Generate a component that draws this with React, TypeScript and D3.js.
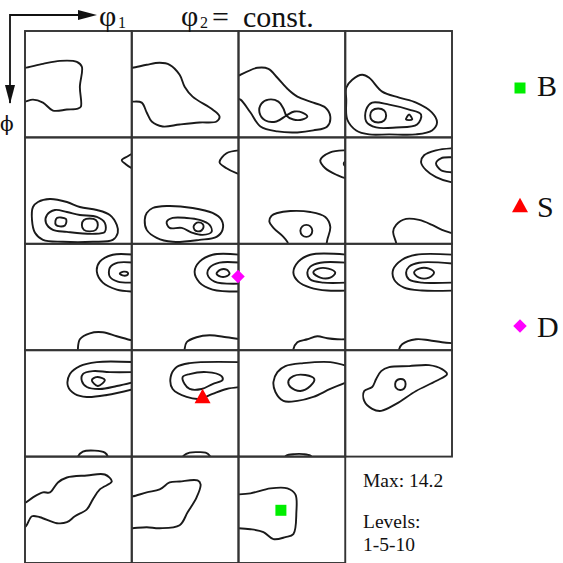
import React from 'react';
import * as d3 from 'd3';

type P = [number, number];
type Contour = { closed: boolean; pts: P[] };
type Cell = { row: number; col: number; contours: Contour[] };

// Section grid
const nRows = 5;
const nCols = 4;
const LOCAL = 107; // local cell units

const o = (pts: P[]): Contour => ({ closed: false, pts });
const c = (pts: P[]): Contour => ({ closed: true, pts });

// Row 0 (phi = first section)
const row0Cells: Cell[] = [
  { row: 0, col: 0, contours: [
    o([[-2,37],[0,37],[18,33],[35,30],[52,31],[57,36],[55,56],[56,76],[53,78],[42,79],[28,80],[18,72],[8,69],[0,71],[-2,71]]),
  ]},
  { row: 0, col: 1, contours: [
    o([[-2,37],[1,37],[15,34],[28,32],[38,34],[48,44],[53,56],[61,66],[81,79],[88,86],[85,91],[68,92],[48,94],[31,96],[20,91],[15,82],[10,72],[1,71],[-2,71]]),
  ]},
  { row: 0, col: 2, contours: [
    o([[-2,46],[0,45],[19,37],[30,38],[39,47],[50,59],[59,66],[75,72],[87,77],[92,86],[89,96],[75,100],[59,102],[39,101],[22,96],[12,82],[2,69],[-2,68]]),
    c([[48,85],[45,78],[40,71],[30,69],[23,73],[21,82],[27,90],[38,91],[48,85],[56,81],[64,82],[69,86],[64,89],[55,89]]),
  ]},
  { row: 0, col: 3, contours: [
    c([[1,57],[7,49],[17,44],[24,47],[37,61],[54,67],[71,72],[87,82],[92,92],[87,100],[71,104],[44,104],[24,104],[11,100],[2,89],[1,69]]),
    c([[21,79],[27,72],[44,74],[64,79],[76,84],[72,94],[51,97],[31,97],[21,91]]),
    c([[33,78],[39,80],[41,85],[39,90],[33,92],[27,90],[25,85],[27,80]]),
    c([[64,84],[67,89],[61,89]]),
  ]},
];

const row1Cells: Cell[] = [
  { row: 1, col: 0, contours: [
    o([[108,16],[103,19],[97,23],[101,27],[107,31],[109,32]]),
    c([[8,70],[13,65],[25,62],[42,65],[55,70],[72,73],[85,78],[92,88],[93,96],[88,103],[68,105],[38,105],[18,103],[10,96],[7,83]]),
    c([[22,78],[30,73],[42,75],[55,78],[72,80],[80,86],[80,95],[68,97],[42,95],[28,93],[21,86]]),
    c([[36,80.5],[41,82],[41.5,85],[40,88.5],[35,89.5],[31,88],[30.5,84],[32,81]]),
    c([[65,81.5],[71,83],[73,88],[71,93],[65,94.5],[59,93],[57,88],[59,83]]),
  ]},
  { row: 1, col: 1, contours: [
    o([[108,13],[95,16],[88,25],[95,31],[105,36],[108,37]]),
    c([[15,76],[21,71],[35,69],[61,71],[81,76],[90,83],[91,93],[85,100],[68,103],[41,105],[25,101],[15,93],[13,83]]),
    c([[35,85],[41,81],[55,81],[68,83],[78,88],[80,95],[71,98],[61,96],[50,91],[38,91]]),
    c([[67,85.5],[71,87],[72,90],[70,93.5],[66,94.5],[63,93],[62,89.5],[64,86.5]]),
  ]},
  { row: 1, col: 2, contours: [
    o([[109,13],[107,13],[92,15],[82,23],[87,31],[99,38],[107,41],[109,41]]),
    o([[109,24],[106.5,24.5],[105.5,26.5],[106.5,28.5],[109,29]]),
    o([[50,109],[49,105],[45,100],[35,91],[31,85],[33,79],[39,76],[52,74],[72,75],[87,80],[92,90],[89,103],[88,109]]),
    c([[68,88],[72,89.5],[74,94],[72,98.5],[68,100],[64,98.5],[62,94],[64,89.5]]),
  ]},
  { row: 1, col: 3, contours: [
    o([[109,11],[106,11],[91,13],[79,18],[76,25],[81,33],[91,40],[106,45],[109,45]]),
    o([[109,20],[106,20],[96,21],[91,26],[96,33],[106,35],[109,35]]),
    o([[51,109],[51,106],[48,95],[51,88],[61,82],[74,83],[87,88],[97,93],[106,96],[109,97]]),
  ]},
];

const row2Cells: Cell[] = [
  { row: 2, col: 0, contours: [
    o([[109,11],[88,11],[75,18],[72,28],[78,39],[92,46],[107,48],[109,48]]),
    o([[109,19],[93,19],[85,24],[85,33],[93,38],[109,39]]),
    c([[95,30],[99,28],[103,29],[103,31],[99,32]]),
    o([[53,109],[53,106],[55,96],[65,90],[78,89],[92,93],[107,97],[109,97]]),
  ]},
  { row: 2, col: 1, contours: [
    o([[109,11],[81,11],[68,18],[63,28],[68,39],[81,46],[109,48]]),
    o([[109,19],[88,19],[78,24],[76,31],[83,38],[109,40]]),
    c([[85,30],[89,26],[95,26],[98,30],[94,33],[89,33]]),
    o([[53,109],[53,106],[55,99],[65,94],[78,92],[95,94],[109,96]]),
  ]},
  { row: 2, col: 2, contours: [
    o([[109,11],[72,11],[60,18],[55,29],[60,38],[72,44],[89,47],[109,47]]),
    o([[109,19],[82,19],[72,23],[69,29],[72,36],[85,39],[109,39]]),
    c([[75,29],[80,25],[90,25],[97,29],[92,34],[82,34]]),
    o([[55,109],[55,106],[59,99],[69,96],[79,93],[89,95],[99,96],[109,96]]),
  ]},
  { row: 2, col: 3, contours: [
    o([[109,11],[71,11],[57,16],[48,26],[49,36],[59,44],[77,47],[109,47]]),
    o([[109,20],[74,19],[64,23],[61,29],[64,36],[77,39],[109,39]]),
    c([[69,29],[74,25],[84,25],[89,29],[84,34],[74,34]]),
    o([[54,109],[54,106],[57,101],[71,96],[84,97],[97,99],[109,100]]),
  ]},
];

const row3Cells: Cell[] = [
  { row: 3, col: 0, contours: [
    o([[109,12],[72,12],[55,16],[45,24],[43,36],[50,44],[62,47],[82,45],[109,39]]),
    o([[109,22],[85,22],[68,21],[58,24],[57,31],[62,37],[75,39],[92,36],[109,32]]),
    c([[67,30],[72,27],[80,30],[73,36]]),
    o([[53,109],[53,107],[58,102],[70,101],[80,103],[83,107],[83,109]]),
  ]},
  { row: 3, col: 1, contours: [
    o([[109,12],[58,13],[45,17],[39,27],[41,39],[55,47],[68,49],[81,44],[95,39],[109,37]]),
    c([[53,34],[51,27],[58,24],[75,22],[90,26],[91,30],[81,34],[70,39],[58,39]]),
    o([[50,109],[52,106],[58,103],[66,102.5],[74,103],[78,106],[79,109]]),
  ]},
  { row: 3, col: 2, contours: [
    o([[109,16],[92,12],[65,13],[47,16],[39,22],[35,32],[37,42],[45,51],[59,51],[75,47],[92,39],[109,32]]),
    c([[50,31],[55,26],[67,25],[76,29],[72,36],[62,41],[52,37]]),
    o([[46,109],[48,106],[56,104.5],[65,104.5],[72,106],[74,109]]),
  ]},
  { row: 3, col: 3, contours: [
    c([[44,17],[64,16],[84,15],[97,19],[102,24],[91,31],[71,41],[51,54],[36,61],[27,59],[19,51],[19,41],[27,37],[31,29],[36,21]]),
    c([[55,29],[59,30],[60.5,34],[59,38.5],[55,40],[51,38],[50,34],[51.5,30.5]]),
  ]},
];

const row4Cells: Cell[] = [
  { row: 4, col: 0, contours: [
    o([[-2,46],[1,46],[8,41],[18,36],[25,36],[33,26],[42,21],[62,19],[80,18],[87,25],[75,33],[68,43],[62,53],[50,60],[42,66],[32,67],[15,61],[7,60],[1,70],[-2,72]]),
  ]},
  { row: 4, col: 1, contours: [
    o([[-2,40],[1,40],[15,36],[28,33],[38,26],[48,25],[66,24],[69,28],[65,41],[56,56],[48,69],[28,72],[15,71],[1,72],[-2,72]]),
  ]},
  { row: 4, col: 2, contours: [
    o([[-2,38],[0,38],[12,37],[32,32],[49,32],[57,38],[58,56],[55,78],[47,81],[35,83],[25,76],[12,73],[0,72],[-2,72]]),
  ]},
];

// Ideal orientation markers (cell, local position)
const idealLabels = ['B', 'S', 'D'];
const idealColors = ['#00ee00', '#ff0000', '#ff00ff'];
const idealShapes = ['square', 'triangle', 'diamond'];
const idealCells: [number, number][] = [[4, 2], [3, 1], [2, 1]];
const idealLocal: P[] = [[42.5, 54], [71, 46], [106.5, 33]];

const infoLines = ['Max: 14.2', 'Levels:', '1-5-10'];

const W = 563, H = 563;
const gridX = d3.scaleLinear().domain([0, nCols]).range([25, 452]);
const gridY = d3.scaleLinear().domain([0, nRows]).range([31, 563]);

const FONT = "'Liberation Serif', 'Times New Roman', 'DejaVu Serif', serif";
const GREEK = "'DejaVu Serif', 'Liberation Serif', serif";

function cellScales(row: number, col: number) {
  const x = d3.scaleLinear().domain([0, LOCAL]).range([gridX(col), gridX(col + 1)]);
  const y = d3.scaleLinear().domain([0, LOCAL]).range([gridY(row), gridY(row + 1)]);
  return { x, y };
}

function markerPath(shape: string, cx: number, cy: number, s: number) {
  if (shape === 'square') return `M${cx - s / 2},${cy - s / 2}h${s}v${s}h${-s}Z`;
  if (shape === 'triangle') {
    const h = s * 0.9;
    return `M${cx},${cy - h / 2}L${cx + s / 2},${cy + h / 2}L${cx - s / 2},${cy + h / 2}Z`;
  }
  const r = s * 0.45;
  return `M${cx},${cy - r}L${cx + r},${cy}L${cx},${cy + r}L${cx - r},${cy}Z`;
}

const allCells: Cell[] = [...row0Cells, ...row1Cells, ...row2Cells, ...row3Cells, ...row4Cells];

export default function App() {
  const lineOpen = d3.line<P>().curve(d3.curveCatmullRom.alpha(0.5));
  const lineClosed = d3.line<P>().curve(d3.curveCatmullRomClosed.alpha(0.5));

  const frameCells: [number, number][] = [];
  for (let r = 0; r < nRows; r++)
    for (let cc = 0; cc < nCols; cc++)
      if (!(r === nRows - 1 && cc === nCols - 1)) frameCells.push([r, cc]);

  const legendY = [88, 205, 326];
  const legendTextY = [96, 217, 337];
  const markerSizes = [11, 16, 15];

  return (
    <svg width={W} height={H} style={{ position: 'absolute', left: 0, top: 0, background: '#fff' }}
      xmlns="http://www.w3.org/2000/svg">
      <rect x={0} y={0} width={W} height={H} fill="#fff" />
      <defs>
        {allCells.map((cl) => (
          <clipPath id={`clip-${cl.row}-${cl.col}`} key={`cp-${cl.row}-${cl.col}`}>
            <rect x={gridX(cl.col)} y={gridY(cl.row)} width={gridX(1) - gridX(0)} height={gridY(1) - gridY(0)} />
          </clipPath>
        ))}
      </defs>

      {/* contours */}
      {allCells.map((cl) => {
        const { x, y } = cellScales(cl.row, cl.col);
        return (
          <g key={`cell-${cl.row}-${cl.col}`} clipPath={`url(#clip-${cl.row}-${cl.col})`}>
            {cl.contours.map((ct, i) => {
              const pts = ct.pts.map(([u, v]) => [x(u), y(v)] as P);
              const d = (ct.closed ? lineClosed : lineOpen)(pts) || '';
              return <path key={i} d={d} fill="none" stroke="#1a1a1a" strokeWidth={1.9} strokeLinejoin="round" />;
            })}
          </g>
        );
      })}

      {/* grid frame */}
      {frameCells.map(([r, cc]) => (
        <rect key={`f-${r}-${cc}`} x={gridX(cc)} y={gridY(r)} width={gridX(cc + 1) - gridX(cc)}
          height={gridY(r + 1) - gridY(r)} fill="none" stroke="#333" strokeWidth={1.9} />
      ))}

      {/* ideal orientation markers */}
      {idealLabels.map((lab, i) => {
        const [r, cc] = idealCells[i];
        const { x, y } = cellScales(r, cc);
        const [u, v] = idealLocal[i];
        return <path key={`m-${lab}`} d={markerPath(idealShapes[i], x(u), y(v), markerSizes[i])} fill={idealColors[i]} />;
      })}

      {/* legend */}
      {idealLabels.map((lab, i) => (
        <g key={`lg-${lab}`}>
          <path d={markerPath(idealShapes[i], 520, legendY[i], markerSizes[i])} fill={idealColors[i]} />
          <text x={537} y={legendTextY[i]} fontFamily={FONT} fontSize={30} fill="#111">{lab}</text>
        </g>
      ))}

      {/* info text */}
      <text x={363} y={487} fontFamily={FONT} fontSize={19.5} fill="#111">{infoLines[0]}</text>
      <text x={363} y={528} fontFamily={FONT} fontSize={19.5} fill="#111">{infoLines[1]}</text>
      <text x={363} y={551} fontFamily={FONT} fontSize={19.5} fill="#111">{infoLines[2]}</text>

      {/* axes arrows */}
      <path d="M10,103 V15 H80" fill="none" stroke="#111" strokeWidth={1.8} />
      <path d="M78,10 L97,15 L78,20 Z" fill="#111" />
      <path d="M5,85 L10,104 L15,85 Z" fill="#111" />
      <text x={99} y={26} fontFamily={FONT} fontSize={30} fill="#111">φ</text>
      <text x={118} y={28} fontFamily={FONT} fontSize={16} fill="#111">1</text>
      <text x={181} y={26} fontFamily={FONT} fontSize={30} fill="#111">φ</text>
      <text x={200} y={28} fontFamily={FONT} fontSize={16} fill="#111">2</text>
      <text x={212} y={27} fontFamily={FONT} fontSize={30} fill="#111">=</text>
      <text x={243} y={27} fontFamily={FONT} fontSize={30} fill="#111">const.</text>
      <text x={0} y={131} fontFamily={GREEK} fontSize={20} fill="#111">ϕ</text>
    </svg>
  );
}
